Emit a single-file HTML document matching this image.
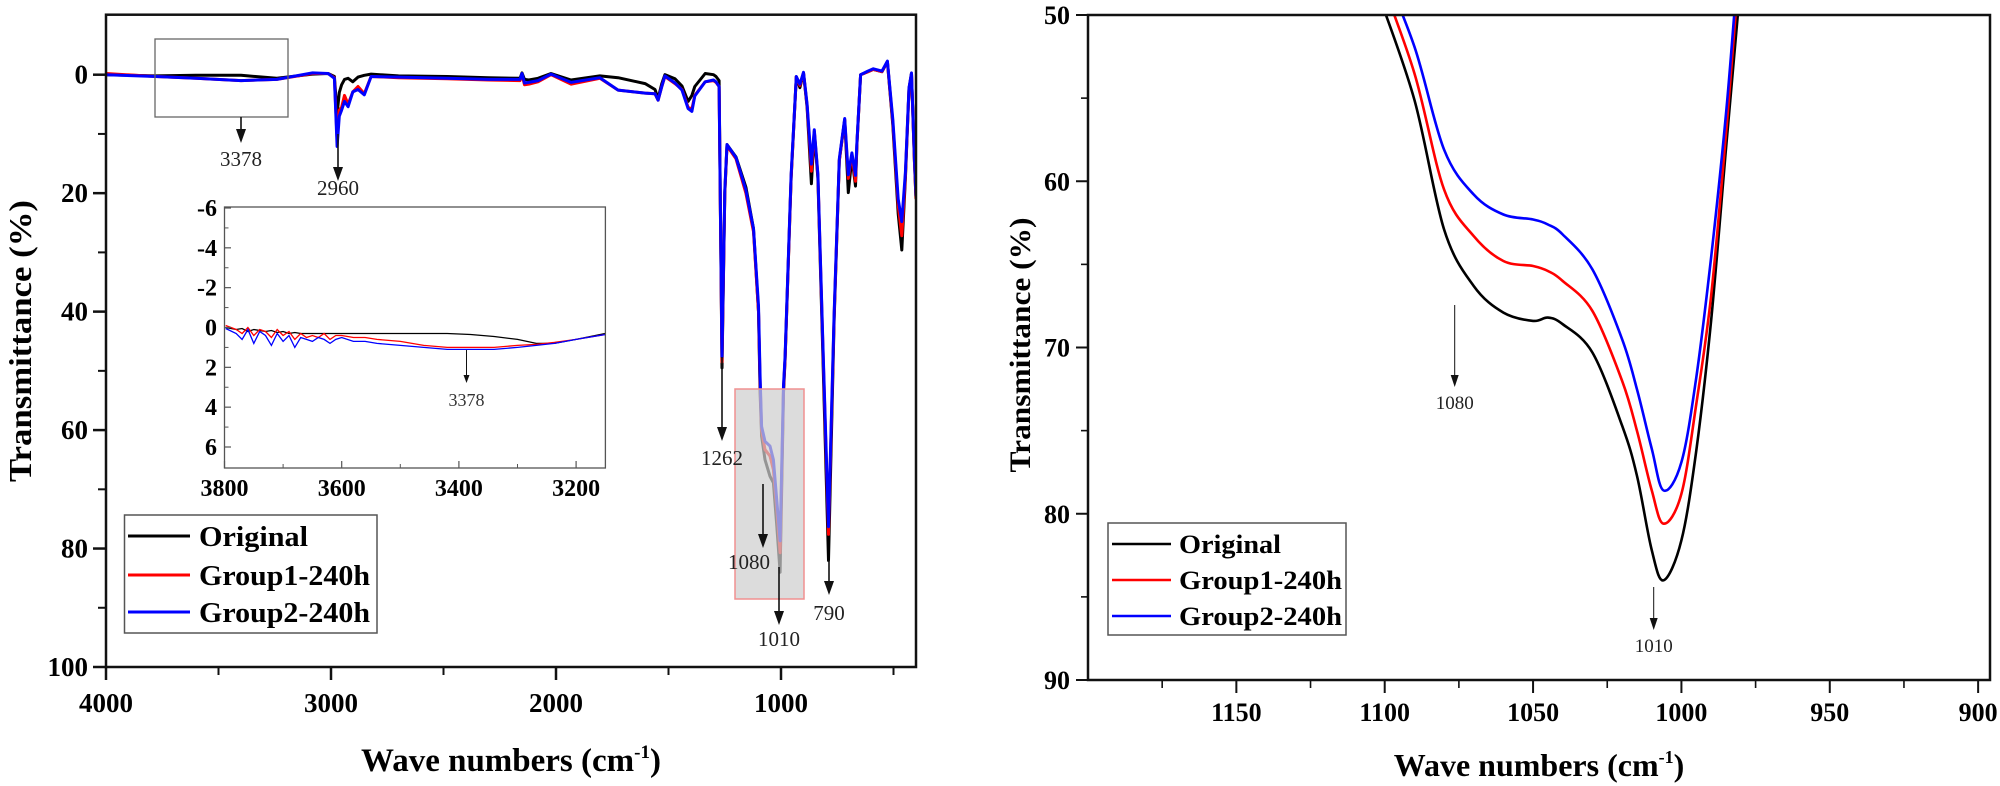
<!DOCTYPE html>
<html><head><meta charset="utf-8">
<style>
html,body{margin:0;padding:0;background:#fff;}
svg{display:block;}
text{font-family:"Liberation Serif",serif;}
</style></head>
<body>
<svg id="chart" width="2000" height="786" viewBox="0 0 2000 786" xmlns="http://www.w3.org/2000/svg"></svg>
<script>
// ---------- Left main spectrum data ----------
const wavenumbers = [4000,3778,3600,3400,3241,3082,3013,2985,2973,2963,2953,2940,2924,2903,2880,2852,2822,2700,2484,2300,2160,2151,2140,2121,2080,2022,1933,1805,1724,1604,1560,1546,1530,1516,1471,1440,1413,1396,1383,1337,1300,1289,1275,1262,1250,1240,1200,1156,1122,1100,1093,1086,1071,1049,1034,1019,1004,989,982,955,932,916,900,884,865,852,836,814,789,764,741,717,701,685,669,662,646,614,590,551,527,503,479,463,447,431,420,407,400];
const originalT = [0,0.2,0.1,0.1,0.6,-0.1,-0.2,0.3,6.6,3,1.7,0.8,0.6,1.2,0.4,0.1,-0.1,0.2,0.3,0.5,0.6,-0.3,0.8,0.9,0.6,-0.2,0.9,0.2,0.5,1.5,2.5,4,1.5,0,0.7,1.9,4.5,3.5,2.0,-0.2,0,0.3,1,49.5,20,11.8,13.9,19,26,40,53.7,61,65,67.8,68.9,76,84,53.7,48,17.5,0.35,2.2,-0.3,5.5,18.4,9.7,17.5,47.6,82,41.6,14.5,7.6,19.9,14,18.8,11.5,0,-0.5,-0.9,-0.5,-2.2,8.5,23.5,29.6,17.5,2.4,-0.2,14.5,21];
const group1T = [-0.2,0.3,0.6,1.0,0.8,-0.2,-0.2,0.5,11,6,5.5,3.5,5,2.9,2,3.2,0.3,0.5,0.7,0.9,1,0,1.7,1.6,1.2,0,1.6,0.6,2.6,3.1,3.2,4.3,2,0.3,1.5,2.5,5.5,5.8,3.5,1.2,1.0,1.3,2,48.5,20,12,14.2,20,26.5,40,52,60,63.3,64.4,66.7,73,80.7,53,48,17.5,0.35,1.8,-0.3,5.2,16.3,9.5,17,46,77.6,41,14.5,7.6,17.5,13.5,18,11.5,0,-0.5,-0.9,-0.5,-2.2,8,22,27.2,17,2.4,-0.2,14.5,21];
const group2T = [0,0.3,0.6,1.0,0.8,-0.3,-0.2,0.6,12.1,7,6,4.5,5.4,2.9,2.5,3.4,0.3,0.4,0.6,0.8,0.8,-0.2,1.4,1.3,1.0,-0.1,1.3,0.5,2.6,3.1,3.2,4.3,2,0.2,1.4,2.6,5.7,6.2,3.6,1.2,0.9,1.2,2,47.6,19.5,11.8,14,19.5,26,39,51,59.4,61.9,62.7,65,71.7,78.7,52.5,47.5,17,0.3,1.6,-0.4,5,15.1,9.3,16.8,45.5,76.3,40.5,14.2,7.4,16.9,13.2,17,11.2,0,-0.6,-1,-0.6,-2.3,7.5,21,24.8,16.5,2.2,-0.3,14,20.5];
const leftXTicks = [4000,3000,2000,1000];
const leftXMinor = [3500,2500,1500,500];
const leftYTicks = [0,20,40,60,80,100];
const leftYMinor = [10,30,50,70,90];

// ---------- Inset data ----------
const insetWave = [3798,3780,3770,3760,3750,3740,3730,3720,3710,3700,3690,3680,3670,3660,3650,3640,3630,3620,3610,3600,3580,3560,3540,3500,3460,3420,3380,3340,3300,3268,3237,3200,3150];
const insetOriginal = [0,0.1,0.05,0.2,0.1,0.15,0.2,0.15,0.25,0.2,0.3,0.25,0.3,0.3,0.3,0.3,0.3,0.3,0.3,0.3,0.3,0.3,0.3,0.3,0.3,0.3,0.35,0.45,0.6,0.8,0.8,0.6,0.3];
const insetGroup1 = [-0.1,0.1,0.3,0,0.4,0.1,0.2,0.5,0.1,0.4,0.2,0.6,0.3,0.5,0.4,0.5,0.3,0.6,0.4,0.4,0.5,0.5,0.6,0.7,0.9,1.0,1.0,1.0,0.9,0.85,0.75,0.6,0.35];
const insetGroup2 = [0.05,0.3,0.6,0.1,0.8,0.2,0.4,0.9,0.3,0.7,0.4,1.0,0.5,0.6,0.7,0.5,0.6,0.8,0.6,0.5,0.7,0.7,0.8,0.9,1.0,1.1,1.1,1.1,1.0,0.9,0.8,0.6,0.35];
const insetXTicks = [3800,3600,3400,3200];
const insetXMinor = [3700,3500,3300];
const insetYTicks = [-6,-4,-2,0,2,4,6];
const insetYMinor = [-5,-3,-1,1,3,5];

// ---------- Right zoom data ----------
const zoomWave = [1102,1090,1080,1070,1060,1050,1045,1040,1030,1020,1015,1010,1006,1000,995,990,985,981,978];
const zoomOriginal = [48.8,55.1,62.9,66.3,67.9,68.4,68.2,68.6,70.3,74.7,77.7,82.2,84.0,81.6,76.2,68.4,58.1,50,45];
const zoomGroup1 = [47.5,53.5,60.5,63.3,64.8,65.1,65.4,66.0,67.8,72.0,75.0,78.6,80.6,78.8,73.4,66.9,57.2,48.5,44];
const zoomGroup2 = [46.5,51.9,58.1,60.8,62.0,62.3,62.6,63.2,65.3,69.5,72.5,76.1,78.6,76.9,71.8,64.6,56.0,47.5,43];
const rightXTicks = [1150,1100,1050,1000,950,900];
const rightXMinor = [1175,1125,1075,1025,975,925];
const rightYTicks = [50,60,70,80,90];
const rightYMinor = [55,65,75,85];

const NS = "http://www.w3.org/2000/svg";
const svg = document.getElementById('chart');
function el(tag, attrs, parent){
  const e = document.createElementNS(NS, tag);
  for (const k in attrs) e.setAttribute(k, attrs[k]);
  (parent||svg).appendChild(e);
  return e;
}
function lin(d0,d1,r0,r1){ return v => r0 + (v-d0)/(d1-d0)*(r1-r0); }

// scales
const xL = lin(4000,400,106,916), yL = lin(0,100,74.7,667);
const xI = lin(3800,3150,224.5,605.4), yI = lin(-6,6,208,447);
const xR = lin(1200,896,1088,1990), yR = lin(50,90,15,680);

function linePath(xs, ys, fx, fy){
  return xs.map((v,i)=> (i?'L':'M') + fx(v).toFixed(1) + ',' + fy(ys[i]).toFixed(1)).join('');
}
function smoothPath(xs, ys, fx, fy){
  const p = xs.map((v,i)=>[fx(v), fy(ys[i])]);
  let d = 'M'+p[0][0].toFixed(1)+','+p[0][1].toFixed(1);
  for (let i=0;i<p.length-1;i++){
    const p0=p[Math.max(0,i-1)], p1=p[i], p2=p[i+1], p3=p[Math.min(p.length-1,i+2)];
    const c1=[p1[0]+(p2[0]-p0[0])/6, p1[1]+(p2[1]-p0[1])/6];
    const c2=[p2[0]-(p3[0]-p1[0])/6, p2[1]-(p3[1]-p1[1])/6];
    d+='C'+c1[0].toFixed(1)+','+c1[1].toFixed(1)+' '+c2[0].toFixed(1)+','+c2[1].toFixed(1)+' '+p2[0].toFixed(1)+','+p2[1].toFixed(1);
  }
  return d;
}
function txt(x,y,s,attrs,parent){
  const t = el('text', Object.assign({x:x,y:y}, attrs||{}), parent);
  t.textContent = s;
  return t;
}
function arrow(x,y1,y2,head,hw,w,name){
  const g = el('g',{});
  
  
  el('line',{x1:x,y1:y1,x2:x,y2:y2-head+1,stroke:'#111','stroke-width':w},g);
  el('polygon',{points:`${x-hw},${y2-head} ${x+hw},${y2-head} ${x},${y2}`,fill:'#111'},g);
  return g;
}

const defs = el('defs',{});
const cp1 = el('clipPath',{id:'clipL'},defs); el('rect',{x:106,y:15,width:810,height:652},cp1);
const cp2 = el('clipPath',{id:'clipI'},defs); el('rect',{x:225,y:207,width:380,height:261},cp2);
const cp3 = el('clipPath',{id:'clipR'},defs); el('rect',{x:1088,y:15,width:902,height:665},cp3);

// ================= LEFT PLOT =================
const left = el('g',{});



// curves
const curvesL = el('g',{'clip-path':'url(#clipL)'},left);
[[originalT,'#000','original'],[group1T,'#ff0000','group1'],[group2T,'#0000ff','group2']].forEach(s=>{
  const p = el('path',{d:linePath(wavenumbers,s[0],xL,yL),fill:'none',stroke:s[1],'stroke-width':3,'stroke-linejoin':'round'},curvesL);
  
  
});

// shaded highlight box
const hb = el('rect',{x:735,y:389,width:69,height:210,fill:'#cfcfcf','fill-opacity':0.72,stroke:'#f09090','stroke-width':1.5},left);


// top-left region box
const rb = el('rect',{x:155,y:39,width:133,height:78,fill:'none',stroke:'#666','stroke-width':1.3},left);



// frame
const fr = el('rect',{x:106,y:14.7,width:810,height:652.3,fill:'none',stroke:'#111','stroke-width':2.5},left);



// axes ticks
leftXTicks.forEach(v=>{
  el('line',{x1:xL(v),y1:667,x2:xL(v),y2:680,stroke:'#111','stroke-width':2.5},left);
  const t = txt(xL(v),712,String(v),{'font-size':27,'font-weight':'bold','text-anchor':'middle'},left);
  
  
});
leftXMinor.forEach(v=> el('line',{x1:xL(v),y1:667,x2:xL(v),y2:675,stroke:'#111','stroke-width':2},left));
leftYTicks.forEach(v=>{
  el('line',{x1:93,y1:yL(v),x2:106,y2:yL(v),stroke:'#111','stroke-width':2.5},left);
  const t = txt(88,yL(v)+9,String(v),{'font-size':27,'font-weight':'bold','text-anchor':'end'},left);
  
  
});
leftYMinor.forEach(v=> el('line',{x1:98,y1:yL(v),x2:106,y2:yL(v),stroke:'#111','stroke-width':2},left));

// titles
const lyt = txt(0,0,'Transmittance (%)',{'font-size':32,'font-weight':'bold','text-anchor':'middle',transform:'translate(31,341) rotate(-90)',textLength:282,lengthAdjust:'spacingAndGlyphs'},left);


const lxt = el('text',{x:511,y:771,'font-size':33,'font-weight':'bold','text-anchor':'middle'},left);


lxt.innerHTML = 'Wave numbers (cm<tspan font-size="19" dy="-13">-1</tspan><tspan dy="13">)</tspan>';

// ---- inset ----
const inset = el('g',{},left);


el('rect',{x:224.5,y:207,width:380.9,height:261,fill:'#fff',stroke:'none'},inset);
const curvesI = el('g',{'clip-path':'url(#clipI)'},inset);
[[insetOriginal,'#000','original'],[insetGroup1,'#ff0000','group1'],[insetGroup2,'#0000ff','group2']].forEach(s=>{
  const p = el('path',{d:linePath(insetWave,s[0],xI,yI),fill:'none',stroke:s[1],'stroke-width':1.3},curvesI);
  
  
});
el('rect',{x:224.5,y:207,width:380.9,height:261,fill:'none',stroke:'#555','stroke-width':1.3},inset);
insetXTicks.forEach(v=>{
  el('line',{x1:xI(v),y1:468,x2:xI(v),y2:461,stroke:'#555','stroke-width':1.2},inset);
  const t = txt(xI(v),496,String(v),{'font-size':24,'font-weight':'bold','text-anchor':'middle'},inset);
  
  
});
insetXMinor.forEach(v=> el('line',{x1:xI(v),y1:468,x2:xI(v),y2:464,stroke:'#555','stroke-width':1},inset));
insetYTicks.forEach(v=>{
  el('line',{x1:224.5,y1:yI(v),x2:231,y2:yI(v),stroke:'#555','stroke-width':1.2},inset);
  const t = txt(217,yI(v)+8,String(v),{'font-size':24,'font-weight':'bold','text-anchor':'end'},inset);
  
  
});
insetYMinor.forEach(v=> el('line',{x1:224.5,y1:yI(v),x2:228.5,y2:yI(v),stroke:'#555','stroke-width':1},inset));
arrow(466.5,350,383,8,3,1,'inset-arrow-3378');
const il = txt(466.5,406,'3378',{'font-size':18,'text-anchor':'middle',fill:'#333'},inset);



// annotations
[[241,117,143,'3378',166],[338,134,181,'2960',195],[722,357,441,'1262',465],[763,484,548,'1080',569],[779,567,625,'1010',646],[829,560,595,'790',620]].forEach(a=>{
  arrow(a[0],a[1],a[2],14,5,1.6,'arrow-'+a[3]);
  const lx = a[3]==='1080' ? 749 : a[0];
  const t = txt(lx,a[4],a[3],{'font-size':21,'text-anchor':'middle',fill:'#222'},left);
  
  
});

// legend left
const legL = el('g',{},left);


el('rect',{x:124.5,y:515,width:252.5,height:118,fill:'#fff',stroke:'#555','stroke-width':1.5},legL);
[['Original','#000',536,109],['Group1-240h','#ff0000',575,171],['Group2-240h','#0000ff',612,171]].forEach(e=>{
  const g = el('g',{},legL);
  
  
  el('line',{x1:128,y1:e[2],x2:190,y2:e[2],stroke:e[1],'stroke-width':3},g);
  txt(199,e[2]+10,e[0],{'font-size':28,'font-weight':'bold',textLength:e[3],lengthAdjust:'spacingAndGlyphs'},g);
});

// ================= RIGHT PLOT =================
const right = el('g',{});


const curvesR = el('g',{'clip-path':'url(#clipR)'},right);
[[zoomOriginal,'#000','original'],[zoomGroup1,'#ff0000','group1'],[zoomGroup2,'#0000ff','group2']].forEach(s=>{
  const p = el('path',{d:smoothPath(zoomWave,s[0],xR,yR),fill:'none',stroke:s[1],'stroke-width':2.6},curvesR);
  
  
});
const fr2 = el('rect',{x:1088,y:15,width:902,height:665,fill:'none',stroke:'#111','stroke-width':2.5},right);


rightXTicks.forEach(v=>{
  el('line',{x1:xR(v),y1:680,x2:xR(v),y2:693,stroke:'#111','stroke-width':2},right);
  const t = txt(xR(v),721,String(v),{'font-size':26,'font-weight':'bold','text-anchor':'middle'},right);
  
  
});
rightXMinor.forEach(v=> el('line',{x1:xR(v),y1:680,x2:xR(v),y2:688,stroke:'#111','stroke-width':1.6},right));
rightYTicks.forEach(v=>{
  el('line',{x1:1076,y1:yR(v),x2:1088,y2:yR(v),stroke:'#111','stroke-width':2},right);
  const t = txt(1070,yR(v)+9,String(v),{'font-size':26,'font-weight':'bold','text-anchor':'end'},right);
  
  
});
rightYMinor.forEach(v=> el('line',{x1:1081,y1:yR(v),x2:1088,y2:yR(v),stroke:'#111','stroke-width':1.6},right));

const ryt = txt(0,0,'Transmittance (%)',{'font-size':30,'font-weight':'bold','text-anchor':'middle',transform:'translate(1030,345) rotate(-90)',textLength:255,lengthAdjust:'spacingAndGlyphs'},right);


const rxt = el('text',{x:1539,y:776,'font-size':32,'font-weight':'bold','text-anchor':'middle'},right);


rxt.innerHTML = 'Wave numbers (cm<tspan font-size="18" dy="-13">-1</tspan><tspan dy="13">)</tspan>';

arrow(1454.7,305,387,12,4,1,'zoom-arrow-1080');
const r1 = txt(1454.7,409,'1080',{'font-size':19,'text-anchor':'middle',fill:'#222'},right);


arrow(1653.7,587,630,12,4,1,'zoom-arrow-1010');
const r2 = txt(1653.7,652,'1010',{'font-size':19,'text-anchor':'middle',fill:'#222'},right);



const legR = el('g',{},right);


el('rect',{x:1108,y:523,width:238,height:112,fill:'#fff',stroke:'#555','stroke-width':1.5},legR);
[['Original','#000',544,102],['Group1-240h','#ff0000',580,163],['Group2-240h','#0000ff',616,163]].forEach(e=>{
  const g = el('g',{},legR);
  
  
  el('line',{x1:1112,y1:e[2],x2:1171,y2:e[2],stroke:e[1],'stroke-width':2.6},g);
  txt(1179,e[2]+9,e[0],{'font-size':26,'font-weight':'bold',textLength:e[3],lengthAdjust:'spacingAndGlyphs'},g);
});
</script>
</body></html>
